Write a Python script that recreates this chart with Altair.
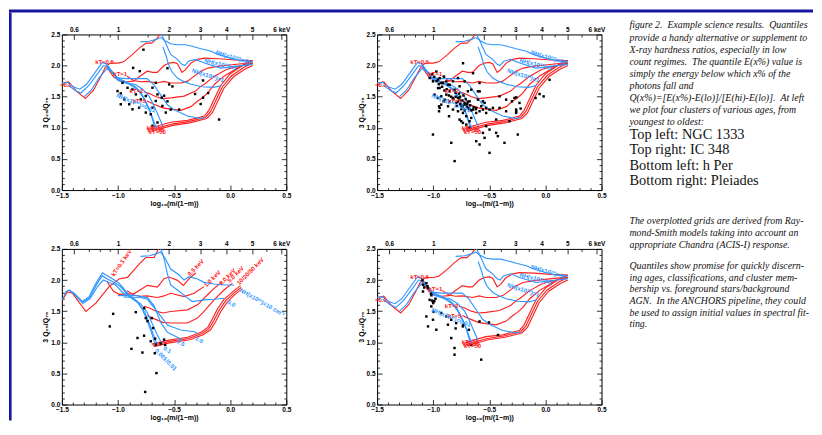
import altair as alt
import numpy as np
import pandas as pd

RED = "#ff2020"
BLUE = "#2e96ff"
NAVY = "#16169e"
W, H = 225, 156
TICK_MAJ, TICK_MIN = 5, 2.5
NB = "\u00a0"

# ---------------- axis tick values ----------------
E_LO, E_HI = 0.3, 8.0
KEV_MAJOR = [0.6, 1, 2, 3, 4, 5, 6]
KEV_MINOR = [0.7, 0.8, 0.9, 1.5, 2.5, 3.5, 4.5, 5.5]
X_MAJOR = [-1.5, -1.0, -0.5, 0.0, 0.5]
X_MINOR = [-1.4, -1.3, -1.2, -1.1, -0.9, -0.8, -0.7, -0.6, -0.4, -0.3, -0.2, -0.1, 0.1, 0.2, 0.3, 0.4]
Y_MAJOR = [0.0, 0.5, 1.0, 1.5, 2.0, 2.5]
Y_MINOR = [0.1, 0.2, 0.3, 0.4, 0.6, 0.7, 0.8, 0.9, 1.1, 1.2, 1.3, 1.4,
           1.6, 1.7, 1.8, 1.9, 2.1, 2.2, 2.3, 2.4]

# ---------------- model grid A (top-left, top-right, bottom-right) ----------------
A_R01 = [(-1.5, 1.72), (-1.44, 1.74), (-1.37, 1.59), (-1.29, 1.47), (-1.22, 1.6), (-1.16, 1.8),
         (-1.11, 1.98), (-1.07, 2.04), (-1.0, 2.04), (-0.95, 2.06), (-0.87, 2.18), (-0.81, 2.28),
         (-0.75, 2.36), (-0.7, 2.36), (-0.65, 2.44), (-0.62, 2.52)]
A_R05 = [(-1.1, 1.98), (-1.04, 1.82), (-0.99, 1.76), (-0.92, 1.74), (-0.86, 1.75), (-0.81, 1.82),
         (-0.74, 1.91), (-0.69, 1.89), (-0.65, 1.89), (-0.59, 2.0), (-0.545, 2.04), (-0.5, 2.05),
         (-0.47, 2.03), (-0.43, 1.89), (-0.4, 1.93), (-0.35, 2.04), (-0.29, 2.1), (-0.23, 2.12),
         (-0.1, 2.11), (0.05, 2.09), (0.2, 2.08)]
A_R1 = [(-0.92, 1.83), (-0.86, 1.76), (-0.8, 1.74), (-0.74, 1.745), (-0.65, 1.72), (-0.59, 1.745),
        (-0.53, 1.72), (-0.44, 1.72), (-0.38, 1.75), (-0.32, 1.83), (-0.26, 1.91), (-0.2, 1.96),
        (-0.1, 1.99), (0.0, 2.01), (0.1, 2.03), (0.2, 2.04)]
A_R2 = [(-0.77, 1.58), (-0.72, 1.55), (-0.66, 1.5), (-0.6, 1.47), (-0.53, 1.48), (-0.41, 1.51),
        (-0.31, 1.59), (-0.26, 1.67), (-0.23, 1.7), (-0.14, 1.83), (-0.03, 1.94), (0.1, 2.0), (0.2, 2.04)]
A_R5 = [(-0.74, 1.43), (-0.68, 1.38), (-0.6, 1.32), (-0.53, 1.3), (-0.44, 1.28), (-0.35, 1.34),
        (-0.29, 1.43), (-0.25, 1.48), (-0.2, 1.56), (-0.14, 1.7), (-0.055, 1.83), (0.064, 1.96), (0.18, 2.07)]
A_R10 = [(-0.72, 0.99), (-0.65, 1.03), (-0.53, 1.09), (-0.38, 1.12), (-0.23, 1.19), (-0.19, 1.28),
         (-0.14, 1.47), (-0.085, 1.68), (0.0, 1.87), (0.11, 2.0), (0.2, 2.08)]
A_R20 = [(-0.71, 0.96), (-0.64, 1.0), (-0.52, 1.06), (-0.37, 1.1), (-0.22, 1.17), (-0.175, 1.26),
         (-0.125, 1.45), (-0.07, 1.66), (0.015, 1.84), (0.12, 1.97), (0.2, 2.04)]
A_R50 = [(-0.70, 0.94), (-0.63, 0.98), (-0.51, 1.04), (-0.36, 1.08), (-0.21, 1.15), (-0.16, 1.24),
         (-0.11, 1.43), (-0.055, 1.64), (0.03, 1.82), (0.13, 1.94), (0.2, 2.0)]

A_B0001 = [(-1.5, 1.72), (-1.45, 1.73), (-1.4, 1.66), (-1.34, 1.62), (-1.28, 1.7), (-1.2, 1.9),
           (-1.14, 2.05), (-1.1, 2.02), (-1.05, 1.9), (-1.0, 1.8), (-0.93, 1.74), (-0.86, 1.68),
           (-0.8, 1.58), (-0.76, 1.45), (-0.72, 1.3), (-0.69, 1.12), (-0.67, 0.99)]
A_B001 = [(-1.45, 1.69), (-1.38, 1.6), (-1.33, 1.56), (-1.26, 1.68), (-1.19, 1.85), (-1.13, 2.0),
          (-1.09, 1.98), (-1.04, 1.86), (-0.98, 1.76), (-0.9, 1.7), (-0.83, 1.62), (-0.78, 1.5),
          (-0.74, 1.36), (-0.7, 1.2), (-0.67, 1.05), (-0.65, 0.99)]
A_B01 = [(-1.3, 1.5), (-1.24, 1.6), (-1.17, 1.8), (-1.1, 1.95), (-1.05, 1.9), (-1.0, 1.76),
         (-0.93, 1.72), (-0.85, 1.7), (-0.78, 1.62), (-0.72, 1.5), (-0.67, 1.32), (-0.63, 1.15), (-0.6, 1.03)]
A_B05 = [(-1.03, 1.81), (-0.93, 1.79), (-0.86, 1.79), (-0.74, 1.79), (-0.68, 1.69), (-0.62, 1.53),
         (-0.56, 1.37), (-0.5, 1.29), (-0.38, 1.19), (-0.26, 1.15), (-0.22, 1.17)]
A_B1 = [(-0.6, 2.3), (-0.57, 2.15), (-0.55, 2.02), (-0.52, 1.9), (-0.47, 1.8), (-0.42, 1.75),
        (-0.35, 1.7), (-0.25, 1.66), (-0.15, 1.65), (-0.08, 1.68)]
A_B5 = [(-0.62, 2.52), (-0.59, 2.42), (-0.56, 2.3), (-0.53, 2.18), (-0.47, 2.1), (-0.43, 2.02),
        (-0.405, 2.0), (-0.37, 2.07), (-0.31, 2.1), (-0.23, 2.04), (-0.085, 1.96), (0.06, 1.99), (0.2, 2.02)]
A_B10 = [(-0.8, 2.38), (-0.72, 2.39), (-0.66, 2.42), (-0.62, 2.45), (-0.58, 2.4), (-0.53, 2.35),
         (-0.47, 2.335), (-0.4, 2.335), (-0.34, 2.31), (-0.26, 2.27), (-0.17, 2.23), (-0.11, 2.18),
         (0.0, 2.12), (0.1, 2.08), (0.2, 2.06)]

A_RED = [A_R01, A_R05, A_R1, A_R2, A_R5, A_R10, A_R20, A_R50]
A_BLUE = [A_B0001, A_B001, A_B01, A_B05, A_B1, A_B5, A_B10]

A_LABELS = [
    ("=0.1", -1.465, 1.68, 0, RED), ("kT=0.5", -1.12, 2.05, 0, RED), ("kT=1", -0.98, 1.86, 0, RED),
    ("kT=2", -0.835, 1.59, 0, RED), ("kT=5", -0.81, 1.43, 0, RED), ("kT=10", -0.67, 1.0, 0, RED),
    ("kT=20", -0.66, 0.97, 0, RED), ("kT=50", -0.65, 0.94, 0, RED),
    ("NH(x10²²)=10", 0.028, 2.13, 17, BLUE), ("NH(x10²²)=5", -0.085, 2.02, 14, BLUE),
    ("NH(x10²²)=1", -0.197, 1.84, 18, BLUE), ("NH(x10²²)=0.01", -0.84, 1.40, 22, BLUE),
]

# ---------------- model grid B (bottom-left) ----------------
B_R01 = [(-1.494, 1.681), (-1.45, 1.814), (-1.405, 1.787), (-1.286, 1.495), (-1.197, 1.628),
         (-1.079, 1.894), (-0.99, 2.016), (-0.915, 2.043), (-0.812, 2.255), (-0.752, 2.362),
         (-0.678, 2.362), (-0.634, 2.52)]
B_R05 = [(-1.1, 1.98), (-1.04, 1.82), (-0.99, 1.77), (-0.856, 1.782), (-0.737, 1.915), (-0.648, 1.888),
         (-0.589, 2.021), (-0.545, 2.048), (-0.47, 1.995), (-0.417, 1.915), (-0.366, 2.021), (-0.307, 2.117)]
B_R1 = [(-0.92, 1.83), (-0.86, 1.76), (-0.8, 1.74), (-0.74, 1.745), (-0.65, 1.72), (-0.59, 1.745),
        (-0.53, 1.787), (-0.411, 1.734), (-0.322, 1.787), (-0.233, 1.894)]
B_R2 = [(-0.77, 1.58), (-0.72, 1.55), (-0.66, 1.5), (-0.6, 1.47), (-0.53, 1.495), (-0.381, 1.521),
        (-0.292, 1.601), (-0.233, 1.707), (-0.144, 1.867), (-0.07, 1.973)]
B_R5 = [(-0.74, 1.43), (-0.68, 1.38), (-0.6, 1.32), (-0.53, 1.309), (-0.381, 1.309), (-0.292, 1.388),
        (-0.233, 1.495), (-0.144, 1.681), (-0.055, 1.84), (0.019, 1.947)]
B_R10 = [(-0.70, 0.97), (-0.56, 1.03), (-0.38, 1.08), (-0.26, 1.16), (-0.2, 1.24), (-0.16, 1.37),
         (-0.115, 1.53), (-0.055, 1.69), (0.034, 1.83), (0.093, 1.91)]
B_R20 = [(-0.69, 0.95), (-0.55, 1.01), (-0.37, 1.06), (-0.25, 1.14), (-0.19, 1.22), (-0.145, 1.35),
         (-0.10, 1.51), (-0.04, 1.67), (0.045, 1.81), (0.1, 1.88)]
B_R50 = [(-0.68, 0.93), (-0.54, 0.99), (-0.36, 1.04), (-0.24, 1.12), (-0.175, 1.2), (-0.13, 1.33),
         (-0.085, 1.49), (-0.025, 1.65), (0.055, 1.79), (0.105, 1.85)]

B_B0001 = [(-1.494, 1.681), (-1.464, 1.814), (-1.435, 1.84), (-1.39, 1.787), (-1.316, 1.654),
           (-1.257, 1.734), (-1.197, 1.947), (-1.138, 2.117), (-1.108, 2.08), (-1.05, 2.02),
           (-0.99, 1.95), (-0.9, 1.76), (-0.83, 1.66), (-0.78, 1.52), (-0.74, 1.35), (-0.7, 1.15), (-0.67, 0.97)]
B_B001 = [(-1.43, 1.83), (-1.39, 1.77), (-1.32, 1.64), (-1.25, 1.72), (-1.19, 1.93), (-1.14, 2.07),
          (-1.1, 2.02), (-1.04, 1.97), (-0.98, 1.9), (-0.9, 1.74), (-0.82, 1.63), (-0.76, 1.48),
          (-0.72, 1.3), (-0.68, 1.1), (-0.65, 0.96)]
B_B01 = [(-1.32, 1.62), (-1.25, 1.7), (-1.18, 1.9), (-1.13, 2.0), (-1.08, 1.96), (-1.02, 1.92),
         (-0.96, 1.8), (-0.88, 1.72), (-0.8, 1.62), (-0.74, 1.48), (-0.7, 1.32), (-0.65, 1.12), (-0.61, 0.98)]
B_B05 = [(-1.0, 1.75), (-0.856, 1.755), (-0.737, 1.718), (-0.678, 1.585), (-0.619, 1.319),
         (-0.559, 1.16), (-0.47, 1.08), (-0.43, 1.04)]
B_B1 = [(-0.95, 1.73), (-0.8, 1.72), (-0.737, 1.691), (-0.648, 1.489), (-0.559, 1.277), (-0.441, 1.197),
        (-0.322, 1.17), (-0.292, 1.144)]
B_B5 = [(-0.62, 2.52), (-0.59, 2.35), (-0.56, 2.1), (-0.53, 1.92), (-0.47, 1.84), (-0.396, 1.734),
        (-0.337, 1.654), (-0.233, 1.681), (-0.144, 1.691), (-0.055, 1.707)]
B_B10 = [(-0.8, 2.38), (-0.72, 2.39), (-0.66, 2.42), (-0.62, 2.45), (-0.58, 2.35), (-0.53, 2.176),
         (-0.455, 2.08), (-0.411, 2.0), (-0.366, 2.053), (-0.292, 2.016), (-0.233, 1.963),
         (-0.144, 1.936), (-0.055, 1.92), (0.034, 1.92)]

B_RED = [B_R01, B_R05, B_R1, B_R2, B_R5, B_R10, B_R20, B_R50]
B_BLUE = [B_B0001, B_B001, B_B01, B_B05, B_B1, B_B5, B_B10]

B_LABELS = [
    ("kT=0.1 keV", -0.969, 2.277, 305, RED), ("0.5 keV", -0.307, 2.2, 315, RED),
    ("1.0 keV", -0.159, 2.02, 315, RED), ("2.0 keV", -0.025, 2.05, 315, RED),
    ("5.0 keV", 0.049, 2.09, 315, RED), ("10/20/50 keV", 0.18, 2.14, 315, RED),
    ("NH(x10²²)=10 cm⁻²", 0.286, 1.64, 30, BLUE), ("5.0", 0.01, 1.62, 30, BLUE),
    ("1.0", -0.277, 1.04, 30, BLUE), ("0.5", -0.44, 0.99, 30, BLUE), ("0.1", -0.56, 0.88, 30, BLUE),
    ("0.001/0.01", -0.574, 0.72, 45, BLUE),
]

# ---------------- cluster sources ----------------
TL_PTS = [(-0.773, 2.255), (-0.865, 1.963), (-0.806, 1.910), (-0.96, 1.723), (-1.004, 1.59),
          (-0.975, 1.553), (-0.915, 1.644), (-0.871, 1.617), (-0.841, 1.537), (-0.945, 1.457),
          (-0.975, 1.378), (-0.9, 1.378), (-0.871, 1.298), (-0.812, 1.324), (-0.797, 1.457),
          (-0.752, 1.511), (-0.693, 1.644), (-0.663, 1.723), (-0.648, 1.537), (-0.752, 1.245),
          (-0.693, 1.324), (-0.663, 1.431), (-0.61, 1.484), (-0.604, 1.351), (-0.544, 1.697),
          (-0.574, 1.245), (-0.693, 1.032), (-0.648, 1.085), (-0.708, 1.218), (-0.589, 1.516),
          (-0.559, 1.426), (-0.53, 1.293), (-0.455, 1.293), (-0.313, 1.543), (-0.263, 1.383),
          (-0.197, 1.559), (-0.099, 1.133), (-0.242, 1.761), (-0.559, 1.957), (-0.515, 1.665),
          (-0.242, 1.484)]

TR_PTS = [(-1.031, 1.80), (-1.002, 1.747), (-0.957, 1.774), (-0.913, 1.72), (-0.868, 1.693),
          (-0.824, 1.747), (-0.779, 1.80), (-0.765, 1.667), (-0.72, 1.747), (-0.691, 1.587),
          (-0.661, 1.613), (-0.602, 1.587), (-0.942, 1.64), (-0.854, 1.587), (-0.809, 1.613),
          (-0.987, 1.533), (-0.957, 1.480), (-0.928, 1.506), (-0.898, 1.453), (-0.883, 1.533),
          (-0.854, 1.426), (-0.824, 1.480), (-0.794, 1.400), (-0.765, 1.453), (-0.750, 1.346),
          (-0.720, 1.373), (-0.691, 1.320), (-0.676, 1.426), (-0.646, 1.293), (-0.617, 1.320),
          (-0.587, 1.266), (-0.557, 1.293), (-0.528, 1.320), (-0.868, 1.346), (-0.824, 1.293),
          (-0.779, 1.266), (-0.735, 1.239), (-0.705, 1.186), (-0.661, 1.159), (-0.942, 1.320),
          (-0.948, 1.266), (-0.928, 1.373), (-0.765, 1.132), (-0.735, 1.079), (-0.705, 1.052),
          (-0.676, 1.106), (-0.617, 1.239), (-0.572, 1.346), (-0.528, 1.239), (-0.498, 1.293),
          (-0.557, 1.426), (-0.602, 1.453),
          (-1.002, 0.892), (-0.839, 0.759), (-0.809, 0.465), (-0.750, 1.106), (-0.676, 0.999),
          (-0.617, 0.785), (-0.587, 0.732), (-0.542, 0.839), (-0.498, 0.972), (-0.439, 0.919),
          (-0.424, 0.866), (-0.498, 0.598), (-0.365, 0.759), (-0.246, 0.892), (-0.320, 1.106),
          (-0.261, 1.293), (-0.231, 1.400), (-0.276, 1.480), (-0.468, 1.320), (-0.439, 1.133),
          (-0.528, 1.026), (-0.557, 0.919),
          (-0.542, 1.40), (-0.409, 1.32), (-0.35, 1.266), (-0.261, 1.24), (-0.409, 1.506),
          (-0.35, 1.453), (-0.587, 1.72),
          (-0.972, 1.904), (-0.942, 1.798), (-0.904, 1.824), (-0.883, 1.745), (-0.927, 1.718),
          (-0.853, 1.691), (-0.957, 1.638), (-0.734, 2.037), (-0.645, 1.878), (-0.586, 1.585),
          (-0.948, 1.346), (-0.859, 1.186), (-0.907, 1.426), (-0.088, 1.479),
          (-0.052, 1.543), (-0.016, 1.505), (0.037, 1.771), (-0.26, 1.266), (-0.221, 1.309),
          (-0.298, 1.426), (-0.26, 1.489),
          (-0.80, 1.50), (-0.78, 1.48), (-0.76, 1.50), (-0.74, 1.44), (-0.72, 1.40), (-0.70, 1.38),
          (-0.78, 1.42), (-0.76, 1.38), (-0.74, 1.35), (-0.70, 1.34), (-0.68, 1.30), (-0.66, 1.28),
          (-0.82, 1.46), (-0.84, 1.50), (-0.86, 1.52), (-0.80, 1.56), (-0.77, 1.55), (-0.73, 1.52),
          (-0.71, 1.46), (-0.69, 1.42), (-0.67, 1.36), (-0.64, 1.33), (-0.62, 1.30), (-0.90, 1.60),
          (-0.92, 1.66), (-0.88, 1.62), (-0.95, 1.70), (-0.97, 1.75), (-0.99, 1.82), (-1.01, 1.86),
          (-0.75, 1.30), (-0.72, 1.28), (-0.79, 1.35)]

BL_PTS = [(-1.043, 1.457), (-1.073, 1.255), (-0.841, 1.484), (-0.767, 1.548), (-0.752, 1.388),
          (-0.699, 1.388), (-0.687, 1.229), (-0.767, 1.106), (-0.826, 1.069), (-0.708, 1.016),
          (-0.669, 1.058), (-0.663, 0.963), (-0.619, 0.979), (-0.589, 1.043), (-0.88, 0.894),
          (-0.782, 0.835), (-0.758, 0.202), (-0.672, 0.824), (-0.657, 0.505), (-0.58, 0.957),
          (-0.737, 1.34)]

BR_PTS = [(-1.091, 1.923), (-1.046, 1.869), (-1.091, 1.816), (-1.032, 1.682), (-1.002, 1.656),
          (-1.017, 1.576), (-1.061, 1.415), (-1.002, 1.362), (-0.928, 1.469), (-0.884, 1.415),
          (-0.839, 1.362), (-1.046, 1.255), (-0.972, 1.201), (-0.869, 1.282), (-0.795, 1.308),
          (-0.736, 1.255), (-0.587, 1.335), (-0.839, 1.068), (-0.81, 0.908), (-0.81, 0.801),
          (-0.682, 1.201), (-0.572, 0.721), (-1.096, 1.995), (-1.016, 1.755), (-0.996, 1.489),
          (-0.8, 1.223), (-0.734, 1.277), (-0.503, 1.319), (-0.423, 1.117), (-0.66, 0.957),
          (-1.0, 1.63), (-0.99, 1.66), (-1.01, 1.67), (-1.05, 1.90), (-1.06, 1.95), (-1.08, 1.88),
          (-1.02, 1.78), (-0.98, 1.70)]

# ---------------- caption text ----------------
PARA1 = ["figure 2. " + NB + "Example science results. " + NB + "Quantiles",
         "provide a handy alternative or supplement to",
         "X-ray hardness ratios, especially in low",
         "count regimes. " + NB + "The quantile E(x%) value is",
         "simply the energy below which x% of the",
         "photons fall and",
         "Q(x%)=[E(x%)-E(lo)]/[E(hi)-E(lo)]. " + NB + "At left",
         "we plot four clusters of various ages, from",
         "youngest to oldest:"]
PARA_LIST = ["Top left: NGC 1333", "Top right: IC 348", "Bottom left: h Per", "Bottom right: Pleiades"]
PARA2 = ["The overplotted grids are derived from Ray-",
         "mond-Smith models taking into account an",
         "appropriate Chandra (ACIS-I) response."]
PARA3 = ["Quantiles show promise for quickly discern-",
         "ing ages, classifications, and cluster mem-",
         "bership vs. foreground stars/background",
         "AGN. " + NB + "In the ANCHORS pipeline, they could",
         "be used to assign initial values in spectral fit-",
         "ting."]


def e2x(e):
    m = (e - E_LO) / (E_HI - E_LO)
    return float(np.log10(m / (1 - m)))


def curves_df(curves):
    rows = []
    for ci, pts in enumerate(curves):
        for i, (x, y) in enumerate(pts):
            rows.append({"c": ci, "i": i, "x": x, "y": y})
    return pd.DataFrame(rows)


AX = dict(labelFont="Liberation Sans", labelFontSize=6.5, labelFontWeight="bold", labelColor="black",
          tickColor="black", tickWidth=0.8, domain=False, grid=False, labelFlush=False,
          labelOverlap=False, titleFont="Liberation Sans", titleFontSize=7, titleFontWeight="bold",
          titleColor="black")

TOP_EXPR = ("datum.value > 0.4 ? '6 keV' : format({lo} + {d} * pow(10, datum.value) / "
            "(1 + pow(10, datum.value)), '.2~f')").format(lo=E_LO, d=E_HI - E_LO)

AX_B_MAJ = alt.Axis(orient="bottom", values=X_MAJOR, format=".1f", tickSize=TICK_MAJ, offset=-TICK_MAJ,
                    labelPadding=2, title="log₁₀(m/(1−m))", titlePadding=1, **AX)
AX_B_MIN = alt.Axis(orient="bottom", values=X_MINOR, tickSize=TICK_MIN, offset=-TICK_MIN,
                    labels=False, title=None, **AX)
AX_T_MAJ = alt.Axis(orient="top", values=[e2x(e) for e in KEV_MAJOR], labelExpr=TOP_EXPR,
                    tickSize=TICK_MAJ, offset=-TICK_MAJ, labelPadding=2, title=None, **AX)
AX_T_MIN = alt.Axis(orient="top", values=[e2x(e) for e in KEV_MINOR], tickSize=TICK_MIN,
                    offset=-TICK_MIN, labels=False, title=None, **AX)
AX_L_MAJ = alt.Axis(orient="left", values=Y_MAJOR, format=".1f", tickSize=TICK_MAJ, offset=-TICK_MAJ,
                    labelPadding=2, title="3 Q₂₅/Q₇₅", titlePadding=2, **AX)
AX_L_MIN = alt.Axis(orient="left", values=Y_MINOR, tickSize=TICK_MIN, offset=-TICK_MIN,
                    labels=False, title=None, **AX)
AX_R_MAJ = alt.Axis(orient="right", values=Y_MAJOR, tickSize=TICK_MAJ, offset=-TICK_MAJ,
                    labels=False, title=None, **AX)
AX_R_MIN = alt.Axis(orient="right", values=Y_MINOR, tickSize=TICK_MIN, offset=-TICK_MIN,
                    labels=False, title=None, **AX)

XS = alt.Scale(domain=[-1.5, 0.5], nice=False, zero=False)
YS = alt.Scale(domain=[0, 2.5], nice=False, zero=False)

one = pd.DataFrame({"k": [0]})
GAP_X, GAP_Y = 91, 59          # gaps between plot areas
LEFT_IN, TOP_IN = 53, 25       # plot area offset from frame corner
TEXT_X = W + 26 + 2            # caption left edge, relative to top-right plot area
FULL_W, FULL_H = 806, 412


def panel(red, blue, pts, labels, extras=()):
    red_l = alt.Chart(curves_df(red)).mark_line(color=RED, strokeWidth=1.15, clip=True).encode(
        x=alt.X("x:Q", scale=XS, axis=AX_B_MAJ), y=alt.Y("y:Q", scale=YS, axis=AX_L_MAJ),
        detail="c:N", order="i:Q")
    blue_l = alt.Chart(curves_df(blue)).mark_line(color=BLUE, strokeWidth=1.15, clip=True).encode(
        x=alt.X("x:Q", scale=XS, axis=AX_B_MIN), y=alt.Y("y:Q", scale=YS, axis=AX_L_MIN),
        detail="c:N", order="i:Q")
    pdf = pd.DataFrame(pts, columns=["x", "y"])
    pts_l = alt.Chart(pdf).mark_square(size=6, color="black", opacity=1).encode(
        x=alt.X("x:Q", scale=XS, axis=AX_T_MAJ), y=alt.Y("y:Q", scale=YS, axis=AX_R_MAJ))
    ldf = pd.DataFrame(labels, columns=["t", "x", "y", "a", "col"])
    lab_l = alt.Chart(ldf).mark_text(font="Liberation Sans", fontSize=6, fontWeight="bold",
                                      align="center", baseline="middle").encode(
        x=alt.X("x:Q", scale=XS, axis=AX_T_MIN), y=alt.Y("y:Q", scale=YS, axis=AX_R_MIN),
        text="t:N", angle=alt.Angle("a:Q", scale=None), color=alt.Color("col:N", scale=None))
    return alt.layer(red_l, blue_l, pts_l, lab_l, *extras).resolve_axis(
        x="independent", y="independent").properties(width=W, height=H)


# navy frame bars, drawn relative to the top-left plot area
vbar = alt.Chart(one).mark_rect(color=NAVY).encode(
    x=alt.value(-LEFT_IN), x2=alt.value(-LEFT_IN + 2.6),
    y=alt.value(-TOP_IN + 3), y2=alt.value(FULL_H - TOP_IN))
hbar = alt.Chart(one).mark_rect(color=NAVY).encode(
    x=alt.value(-LEFT_IN), x2=alt.value(FULL_W - LEFT_IN),
    y=alt.value(-TOP_IN), y2=alt.value(-TOP_IN + 3))


def block(lines, y, size, style, lh):
    df = pd.DataFrame({"t": ["\n".join(lines)]})
    return alt.Chart(df).mark_text(align="left", baseline="top", font="Liberation Serif",
                                   fontSize=size, fontStyle=style, lineHeight=lh, lineBreak="\n",
                                   color="#111111").encode(
        x=alt.value(TEXT_X), y=alt.value(y), text="t:N")


captions = [
    block(PARA1, -14, 9.9, "italic", 12.1),
    block(PARA_LIST, 94, 14.4, "normal", 15.2),
    block(PARA2, 182.5, 9.9, "italic", 11.7),
    block(PARA3, 227, 9.9, "italic", 11.7),
]

tl = panel(A_RED, A_BLUE, TL_PTS, A_LABELS, extras=(vbar, hbar))
tr = panel(A_RED, A_BLUE, TR_PTS, A_LABELS, extras=tuple(captions))
bl = panel(B_RED, B_BLUE, BL_PTS, B_LABELS)
br = panel(A_RED, A_BLUE, BR_PTS, A_LABELS)

chart = alt.concat(tl, tr, bl, br, columns=2, bounds="flush",
                   spacing=alt.RowColnumber(row=GAP_Y, column=GAP_X), padding=0).configure_view(
    stroke="black", strokeWidth=1)

chart.save("out.html", embed_options={"renderer": "svg", "actions": False})
